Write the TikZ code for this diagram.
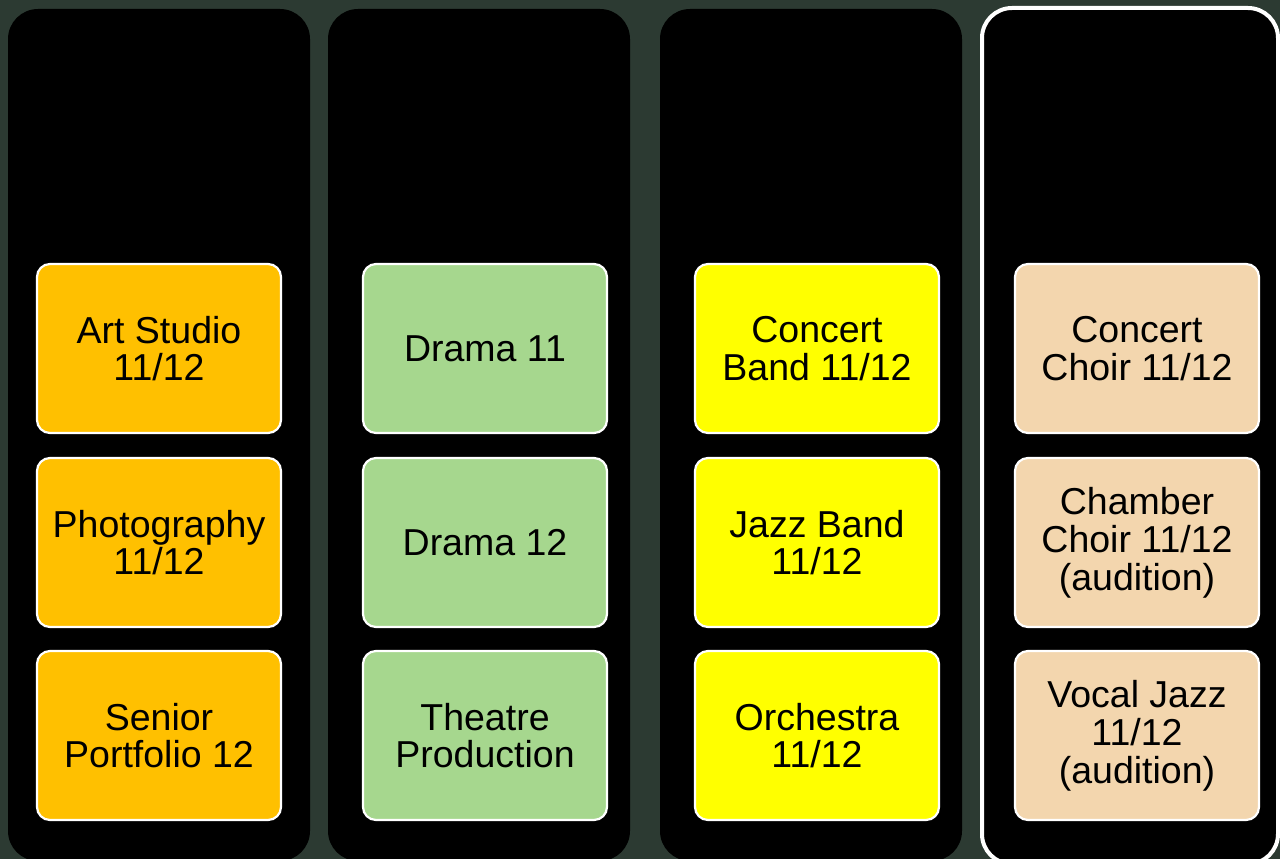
\documentclass[tikz,border=0pt]{standalone}
\usepackage{fontspec}
\setmainfont{Liberation Sans}
\definecolor{bgc}{RGB}{44,58,50}
\definecolor{artc}{RGB}{255,192,0}
\definecolor{dramac}{RGB}{166,215,142}
\definecolor{bandc}{RGB}{255,255,0}
\definecolor{choirc}{RGB}{243,214,174}
\tikzset{
  colbox/.style={fill=black, rounded corners=30pt, minimum width=302pt, minimum height=852pt, inner sep=0pt, outer sep=0pt},
  course/.style={draw=white, line width=2.2pt, rounded corners=13pt, minimum width=244pt, minimum height=169pt, inner sep=0pt, outer sep=0pt, align=center, text=black, font=\fontsize{37.5}{37.8}\selectfont},
}
\begin{document}
\begin{tikzpicture}[x=1pt,y=-1pt]
\fill[bgc] (0,0) rectangle (1280,859);
\useasboundingbox (0,0) rectangle (1280,859);
\clip (0,0) rectangle (1280,859);
% columns
\node[colbox] (c1) at (159,435) {};
\node[colbox] (c2) at (479,435) {};
\node[colbox] (c3) at (811,435) {};
\node[colbox, draw=white, line width=4pt, minimum width=296pt, minimum height=856pt] (c4) at (1130,436) {};
% column 1
\node[course, fill=artc] (a1) at (159,348.5) {Art Studio\\11/12};
\node[course, fill=artc] (a2) at (159,542.5) {Photography\\11/12};
\node[course, fill=artc] (a3) at (159,735.5) {Senior\\Portfolio 12};
% column 2
\node[course, fill=dramac] (d1) at (485,348.5) {Drama 11};
\node[course, fill=dramac] (d2) at (485,542.5) {Drama 12};
\node[course, fill=dramac] (d3) at (485,735.5) {Theatre\\Production};
% column 3
\node[course, fill=bandc] (b1) at (817,348.5) {Concert\\Band 11/12};
\node[course, fill=bandc] (b2) at (817,542.5) {Jazz Band\\11/12};
\node[course, fill=bandc] (b3) at (817,735.5) {Orchestra\\11/12};
% column 4
\node[course, fill=choirc] (v1) at (1137,348.5) {Concert\\Choir 11/12};
\node[course, fill=choirc] (v2) at (1137,542.5) {Chamber\\Choir 11/12\\(audition)};
\node[course, fill=choirc] (v3) at (1137,735.5) {Vocal Jazz\\11/12\\(audition)};
\end{tikzpicture}
\end{document}
